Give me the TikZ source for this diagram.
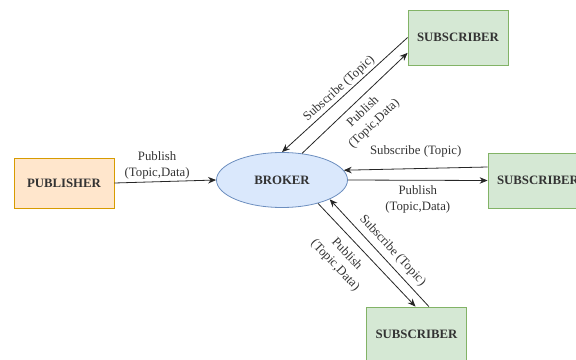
\documentclass[tikz,border=0pt]{standalone}
\usepackage{fontspec}
\setmainfont{Liberation Serif}
\usetikzlibrary{shapes.geometric, arrows.meta}

\definecolor{pubfill}{HTML}{FFE6CC}
\definecolor{publine}{HTML}{D79B00}
\definecolor{subfill}{HTML}{D5E8D4}
\definecolor{subline}{HTML}{82B366}
\definecolor{brokerfill}{HTML}{DAE8FC}
\definecolor{brokerline}{HTML}{6C8EBF}
\definecolor{ink}{HTML}{333333}

\tikzset{
	box/.style = {draw, line width=0.8pt, minimum width=100pt, minimum height=55pt, inner sep=0pt, text=ink, font=\fontsize{12.8}{15}\selectfont\bfseries},
	pubbox/.style = {box, fill=pubfill, draw=publine, minimum height=50pt},
	subbox/.style = {box, fill=subfill, draw=subline},
	brokerbox/.style = {box, ellipse, fill=brokerfill, draw=brokerline, minimum width=131pt},
	msg/.style = {-{Stealth[length=8pt, width=6.5pt]}, line width=0.8pt, black!85},
	lbl/.style = {font=\fontsize{12.8}{16}\selectfont, align=center, inner sep=2pt, text=ink}
}

\begin{document}
\begin{tikzpicture}[x=1pt, y=-1pt]
	%% Frame
	\useasboundingbox (0,0) rectangle (576,359);
	\clip (0,0) rectangle (576,359);

	%% Nodes
	\node [pubbox] (publisher) at (64,183) {PUBLISHER};
	\node [brokerbox] (broker) at (282,180) {BROKER};
	\node [subbox] (subtop) at (458,37.5) {SUBSCRIBER};
	\node [subbox] (subright) at (538,180.5) {SUBSCRIBER};
	\node [subbox] (subbottom) at (416.5,334.5) {SUBSCRIBER};

	%% Publisher to broker
	\draw [msg] (publisher.east) -- node [lbl, above=0pt, pos=0.42] {Publish\\(Topic,Data)} (broker.west);

	%% Top subscriber
	\draw [msg] (subtop.west) -- node [lbl, sloped, above] {Subscribe (Topic)} (broker.north);
	\draw [msg] (broker.53) -- node [lbl, sloped, below=4pt] {Publish\\(Topic,Data)} (subtop.197);

	%% Right subscriber
	\draw [msg] (subright.165) -- node [lbl, above=9pt] {Subscribe (Topic)} (broker.9);
	\draw [msg] (broker.east) -- node [lbl, below=3pt] {Publish\\(Topic,Data)} (subright.west);

	%% Bottom subscriber
	\draw [msg] (broker.-33) -- node [lbl, sloped, below=6pt, pos=0.4] {Publish\\(Topic,Data)} (subbottom.92);
	\draw [msg] (subbottom.66) -- node [lbl, sloped, above=3pt, pos=0.45] {Subscribe (Topic)} (broker.-22);
\end{tikzpicture}
\end{document}
